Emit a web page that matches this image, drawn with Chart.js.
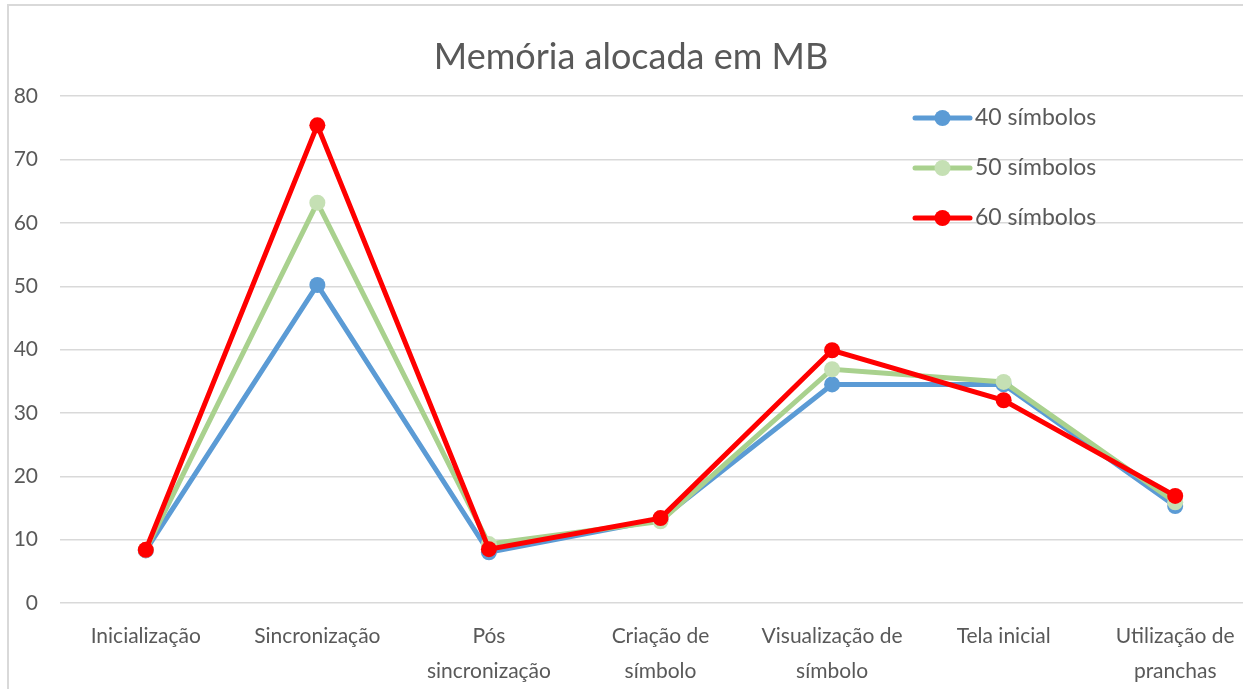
<!DOCTYPE html>
<html>
<head>
<meta charset="utf-8">
<script src="https://cdn.jsdelivr.net/npm/chart.js@4"></script>
<style>
  html, body { margin: 0; padding: 0; background: #fff; overflow: hidden; }
  #wrap { position: absolute; left: 1px; top: 0; width: 1268px; height: 689px; }
  #frame { position: absolute; left: 7px; top: 4px; width: 1300px; height: 700px; border-left: 2px solid #d9d9d9; border-top: 2px solid #d9d9d9; pointer-events: none; }
</style>
</head>
<body>
<div id="wrap"><canvas id="c" width="1268" height="689"></canvas></div>
<div id="frame"></div>
<script>
const categories = [
  "Inicialização",
  ["Sincronização"],
  ["Pós", "sincronização"],
  ["Criação de", "símbolo"],
  ["Visualização de", "símbolo"],
  ["Tela inicial"],
  ["Utilização de", "pranchas"]
];
const series40 = [8.3, 50.2, 8.0, 13.2, 34.5, 34.5, 15.3];
const series50 = [8.4, 63.2, 9.3, 12.9, 36.9, 34.9, 15.9];
const series60 = [8.4, 75.4, 8.5, 13.4, 39.9, 32.0, 16.9];
const seriesNames = ["40 símbolos", "50 símbolos", "60 símbolos"];
const yTicks = [0, 10, 20, 30, 40, 50, 60, 70, 80];

const FONT = "Lato, 'Open Sans', sans-serif";
const TXT = "#595959";

const legendPlugin = {
  id: 'insideLegend',
  afterDatasetsDraw(chart) {
    const ctx = chart.ctx;
    const x0 = 914, x1 = 969, xt = 974;
    const ys = [118, 168, 218];
    chart.data.datasets.forEach((ds, i) => {
      const y = ys[i];
      ctx.save();
      ctx.strokeStyle = ds.borderColor;
      ctx.lineWidth = ds.borderWidth;
      ctx.lineCap = 'round';
      ctx.beginPath(); ctx.moveTo(x0, y); ctx.lineTo(x1, y); ctx.stroke();
      ctx.fillStyle = ds.pointBackgroundColor;
      ctx.beginPath(); ctx.arc((x0 + x1) / 2, y, ds.pointRadius, 0, Math.PI * 2); ctx.fill();
      ctx.fillStyle = TXT;
      ctx.font = "23px " + FONT;
      ctx.textBaseline = 'middle';
      ctx.textAlign = 'left';
      ctx.fillText(ds.label, xt, y);
      ctx.restore();
    });
  }
};

new Chart(document.getElementById('c'), {
  type: 'line',
  data: {
    labels: categories,
    datasets: [
      { label: seriesNames[0], data: series40, borderColor: '#5B9BD5', pointBackgroundColor: '#5B9BD5', pointBorderColor: '#5B9BD5', borderWidth: 5, pointRadius: 8, pointBorderWidth: 0, tension: 0, order: 3 },
      { label: seriesNames[1], data: series50, borderColor: '#A9D18E', pointBackgroundColor: '#C5E0B4', pointBorderColor: '#C5E0B4', borderWidth: 5, pointRadius: 8, pointBorderWidth: 0, tension: 0, order: 2 },
      { label: seriesNames[2], data: series60, borderColor: '#FF0000', pointBackgroundColor: '#FF0000', pointBorderColor: '#FF0000', borderWidth: 5, pointRadius: 8, pointBorderWidth: 0, tension: 0, order: 1 }
    ]
  },
  options: {
    responsive: false,
    animation: false,
    devicePixelRatio: 1,
    layout: { padding: { left: 0, right: 8, top: 0, bottom: 0 } },
    plugins: {
      legend: { display: false },
      tooltip: { enabled: false },
      title: {
        display: true,
        text: "Memória alocada em MB",
        color: TXT,
        font: { family: FONT, size: 36, weight: 'normal', lineHeight: 1.2 },
        padding: { top: 36, bottom: 17 }
      }
    },
    scales: {
      x: {
        offset: true,
        grid: { display: false, drawTicks: false },
        border: { display: false },
        ticks: { color: TXT, font: { family: FONT, size: 21, lineHeight: 1.65 }, padding: 16, maxRotation: 0, autoSkip: false },
        afterFit(s) { s.height = 86; }
      },
      y: {
        min: 0, max: 80,
        afterBuildTicks(s) { s.ticks = yTicks.map(v => ({ value: v })); },
        grid: { color: '#d9d9d9', lineWidth: 1.5, drawTicks: false },
        border: { display: false },
        ticks: { color: TXT, font: { family: FONT, size: 21 }, padding: 22 },
        afterFit(s) { s.width = 59; }
      }
    }
  },
  plugins: [legendPlugin]
});
</script>
</body>
</html>
